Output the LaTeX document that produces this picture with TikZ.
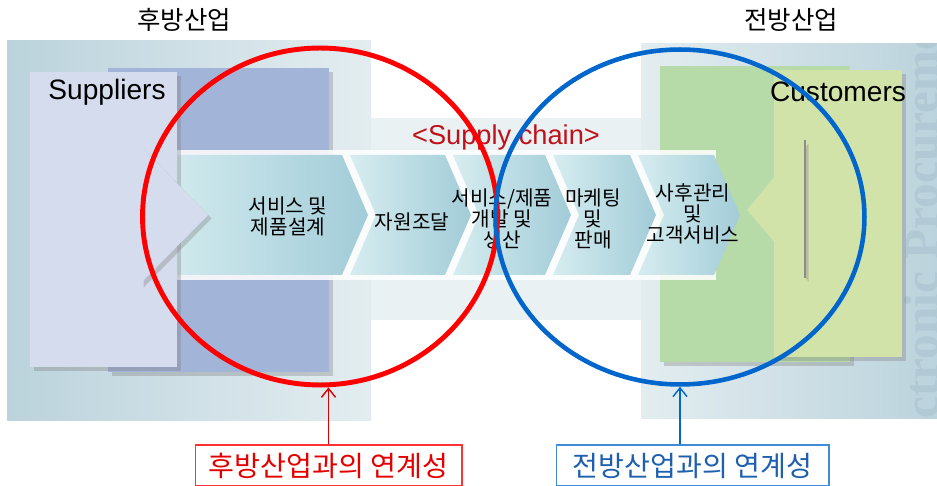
\documentclass[tikz,border=0pt]{standalone}
\usepackage{fontspec}
\setmainfont{Liberation Sans}
\newfontfamily\kr{Noto Sans CJK KR}
\newfontfamily\wm{Liberation Serif}
\usetikzlibrary{shapes.geometric, arrows.meta, shadows}
\tikzset{>={Straight Barb[length=5pt, width=8pt]}}

\definecolor{paneldark}{HTML}{BBD3DC}
\definecolor{panellight}{HTML}{E3EDF0}
\definecolor{band}{HTML}{E9F1F3}
\definecolor{supp}{HTML}{D4DCEE}
\definecolor{suppback}{HTML}{A3B4D9}
\definecolor{custback}{HTML}{B6DBA9}
\definecolor{cust}{HTML}{D1E3A9}
\definecolor{chevlight}{HTML}{D6EDF0}
\definecolor{chevdark}{HTML}{A2CCD8}
\definecolor{backred}{HTML}{FF0000}
\definecolor{chainred}{HTML}{C0101A}
\definecolor{frontblue}{HTML}{0066CC}
\definecolor{boxblue}{HTML}{1F5FAF}
\definecolor{mark}{HTML}{B0C9D4}

\tikzset{
  stage/.style = {align = center, inner sep = 0pt, font = \kr\fontsize{11.5}{12}\selectfont},
  chev/.style = {left color = chevlight, right color = chevdark},
  title/.style = {font = \kr\fontsize{14.5}{17}\selectfont},
  party/.style = {font = \fontsize{16}{19}\selectfont},
  linkbox/.style = {draw, line width = 0.6pt, minimum height = 0.82cm, font = \kr\fontsize{16}{19}\selectfont},
  sheet/.style = {drop shadow = {opacity = 0.35, shadow xshift = 2pt, shadow yshift = -2pt}}
}

\begin{document}
\begin{tikzpicture}[x = 0.02cm, y = -0.02cm]

\useasboundingbox (0, 0) rectangle (937, 486);

\fill[left color = paneldark, right color = panellight] (7, 41) rectangle (371, 420);
\fill[left color = panellight, right color = paneldark] (641, 44) rectangle (937, 418);
\fill[band] (371, 118) rectangle (641, 320);

\begin{scope}
\clip (641, 44) rectangle (937, 418);
\node[rotate = 90, anchor = base west, inner sep = 0pt, text = mark, font = \wm\bfseries\fontsize{28}{30}\selectfont] (mark) at (938, 487) {Electronic Procurement};
\end{scope}

\fill[suppback, sheet] (108, 68) rectangle (329, 372);
\fill[custback, sheet] (660, 66) rectangle (850, 362);
\fill[cust, sheet] (774, 70) rectangle (902, 357);

\fill[white, opacity = 0.85] (177, 150) rectangle (716, 280);
\foreach \a/\b in {150/342, 350/445, 453/545, 553/630, 638/714}
  \path[chev] (\a, 155) -- (\b, 155) -- ({\b + 26}, 215) -- (\b, 275) -- (\a, 275) -- ({\a + 26}, 215) -- cycle;

\fill[supp, sheet] (30, 72) rectangle (177, 367);
\fill[supp, sheet] (140, 145) -- (208, 215) -- (140, 284) -- cycle;
\fill[cust, sheet] (747, 210) -- (805, 140) -- (805, 278) -- cycle;
\draw[black!45, line width = 0.8pt] (805, 140) -- (805, 278);

\node[title] (backtitle) at (184, 20) {후방산업};
\node[title] (fronttitle) at (791, 20) {전방산업};
\node[party] (supplier) at (107, 92) {Suppliers};
\node[party] (customer) at (838, 92) {Customers};
\node[text = chainred, font = \fontsize{15.5}{18}\selectfont] (chain) at (506, 137) {<Supply chain>};

\node[stage] (design) at (288, 216) {서비스 및\\제품설계};
\node[stage] (sourcing) at (412, 222) {자원조달};
\node[stage] (making) at (502, 219) {서비스/제품\\개발 및\\생산};
\node[stage] (selling) at (593, 219) {마케팅\\및\\판매};
\node[stage] (service) at (693, 214) {사후관리\\및\\고객서비스};

\node[ellipse, draw = backred, line width = 2.8pt, minimum width = 7.1cm, minimum height = 6.74cm] (back) at (320, 216.5) {};
\node[ellipse, draw = frontblue, line width = 2.6pt, minimum width = 7.38cm, minimum height = 6.7cm] (front) at (680, 217) {};

\node[linkbox, draw = backred!80, text = backred!90!black, minimum width = 5.34cm] (backbox) at (328.5, 465.5) {후방산업과의 연계성};
\node[linkbox, draw = frontblue!75, text = boxblue, minimum width = 5.46cm] (frontbox) at (692.5, 465.5) {전방산업과의 연계성};

\draw[->, backred!85!black, line width = 0.8pt] (backbox.north) -- (backbox.north |- back.south);
\draw[->, frontblue, line width = 0.8pt] (frontbox.north -| front.south) -- (front.south);

\end{tikzpicture}
\end{document}
